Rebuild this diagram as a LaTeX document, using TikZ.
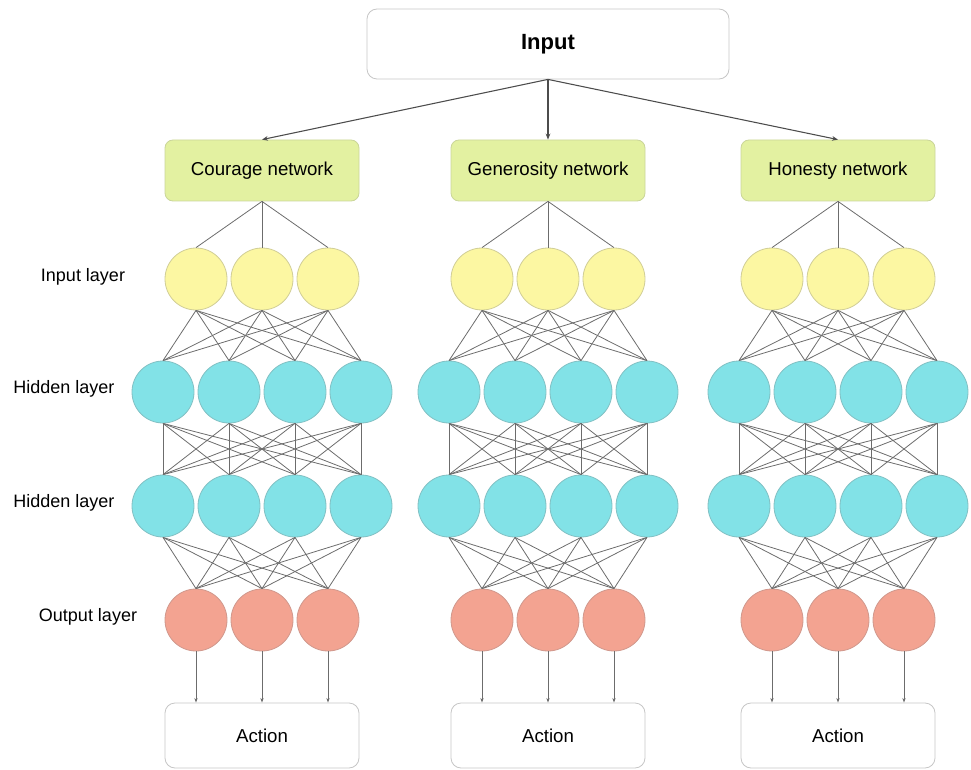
\documentclass[tikz,border=0pt]{standalone}
\usepackage{fontspec}
\setmainfont{Liberation Sans}
\usepackage{tikz}
\usetikzlibrary{arrows.meta}
\definecolor{layeryellow}{HTML}{FCF7A2}
\definecolor{layercyan}{HTML}{82E2E7}
\definecolor{layersalmon}{HTML}{F3A391}
\definecolor{netgreen}{HTML}{E3F1A1}

\begin{document}
\begin{tikzpicture}[x=0.75pt,y=-0.75pt,
	neuron/.style={circle,minimum size=46.5pt,inner sep=0pt,line width=0.6pt},
	inneuron/.style={neuron,fill=layeryellow,draw=layeryellow!65!gray},
	hidneuron/.style={neuron,fill=layercyan,draw=layercyan!65!gray},
	outneuron/.style={neuron,fill=layersalmon,draw=layersalmon!70!gray},
	netbox/.style={rounded corners=6pt,fill=netgreen,draw=netgreen!75!gray,line width=0.6pt,
		minimum width=145.5pt,minimum height=45.75pt,font=\fontsize{14}{16}\selectfont},
	actbox/.style={rounded corners=7.5pt,draw=gray!45,line width=0.6pt,
		minimum width=145.5pt,minimum height=48.75pt,font=\fontsize{14}{16}\selectfont},
	lbl/.style={font=\fontsize{13.5}{16}\selectfont},
	link/.style={draw=gray!85!black,line width=0.6pt},
	arr/.style={draw=black!70,line width=0.8pt,-{Stealth[length=4.5pt,width=3.5pt]}},
	]
    \useasboundingbox (0,0) rectangle (971,770);

    \node[actbox,minimum width=271.5pt,minimum height=52.5pt,font=\fontsize{16.5}{19}\selectfont\bfseries] (inp) at (548,44) {Input};

    % layer names
    \node[lbl] (lab-in) at (83,277) {Input layer};
    \node[lbl] (lab-h1) at (64,389) {Hidden layer};
    \node[lbl] (lab-h2) at (64,503) {Hidden layer};
    \node[lbl] (lab-out) at (88,617) {Output layer};

    \foreach \net/\cx/\txt in {cou/262/Courage network,gen/548/Generosity network,hon/838/Honesty network}{
	\node[netbox] (\net) at (\cx,170.5) {\txt};
	\node[actbox] (\net-act) at (\cx,735.5) {Action};
	\foreach \i/\dx in {1/-66,2/0,3/66}{
	    \node[inneuron] (\net-i\i) at (\cx+\dx,279) {};
	    \node[outneuron] (\net-o\i) at (\cx+\dx,620) {};
	}
	\foreach \i/\dx in {1/-99,2/-33,3/33,4/99}{
	    \node[hidneuron] (\net-a\i) at (\cx+\dx,392) {};
	    \node[hidneuron] (\net-b\i) at (\cx+\dx,506) {};
	}
	% connections
	\draw[arr] (inp.south) -- (\net.north);
	\foreach \i in {1,2,3}{
	    \draw[link] (\net.south) -- (\net-i\i.north);
	    \draw[link,-{Stealth[length=3.5pt,width=2.5pt]}] (\net-o\i.south) -- (\net-o\i.south |- \net-act.north);
	    \foreach \j in {1,...,4}{
		\draw[link] (\net-i\i.south) -- (\net-a\j.north);
		\draw[link] (\net-b\j.south) -- (\net-o\i.north);
	    }
	}
	\foreach \i in {1,...,4}
	    \foreach \j in {1,...,4}
		\draw[link] (\net-a\i.south) -- (\net-b\j.north);
    }
\end{tikzpicture}
\end{document}
